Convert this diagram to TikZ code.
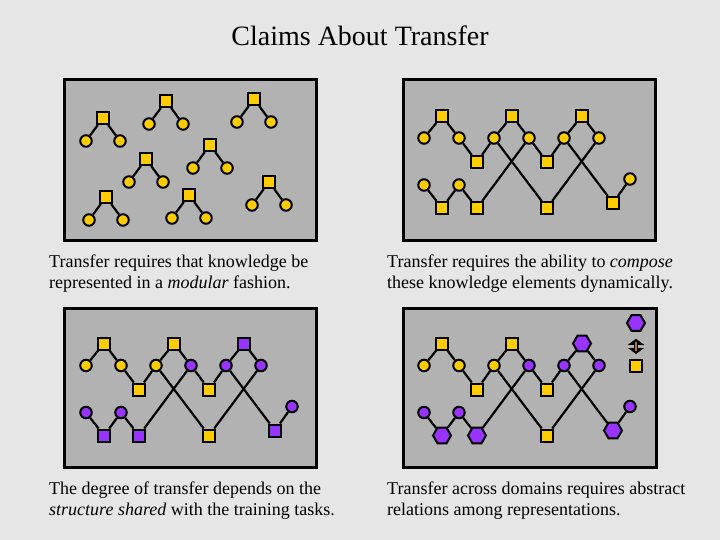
\documentclass[tikz,border=0pt]{standalone}
\usepackage{fontspec}
\setmainfont{Liberation Serif}
\usetikzlibrary{shapes.geometric,arrows.meta}
\definecolor{slide}{HTML}{E6E6E6}
\definecolor{panelgray}{HTML}{B2B2B2}
\definecolor{gold}{HTML}{FFCC00}
\definecolor{viol}{HTML}{9933FF}
\definecolor{shaft}{HTML}{C0702A}
\tikzset{
	unit/.style={draw,line width=2pt,inner sep=0pt,fill=#1},
	gsq/.style={unit=gold,rectangle,minimum size=12pt},
	vsq/.style={unit=viol,rectangle,minimum size=12pt},
	gdot/.style={unit=gold,circle,minimum size=11.5pt},
	vdot/.style={unit=viol,circle,minimum size=11.5pt},
	vhex/.style={unit=viol,regular polygon,regular polygon sides=6,minimum size=18pt},
	link/.style={line width=2.2pt},
	panel/.style={draw,line width=3pt,fill=panelgray},
	caption/.style={anchor=base west,align=left,inner sep=0pt,font=\fontsize{18}{21}\selectfont},
	relhead/.tip={Triangle[width=16pt,length=6pt]}
}
\newcommand{\netedges}{S1/c1,S1/c2,M1/c2,M1/c3,S2/c3,S2/c4,M2/c4,M2/c5,S3/c5,S3/c6,
	B1/l1,B1/l2,B2/l2,B2/c4,B3/c3,B3/c6,B4/c5,B4/r}
\begin{document}
\begin{tikzpicture}[x=1pt,y=-1pt]
	\path[fill=slide,use as bounding box] (0,0) rectangle (720,540);
	\node[font=\fontsize{28}{30}\selectfont,anchor=base] (title) at (360,46) {Claims About Transfer};
	\draw[panel] (64,80) rectangle (316,240);
	\draw[panel] (403,80) rectangle (655,240);
	\draw[panel] (64,308) rectangle (316,467);
	\draw[panel] (403,308) rectangle (656,467);
	\foreach \t/\x/\y in {1/103/118,2/166/101,3/254/99,4/210/145,5/146/159,6/106/197,7/189/195,8/269/182}{
		\node[gsq] (m\t) at (\x,\y) {};
		\node[gdot] (m\t-l) at (\x-17,\y+23) {};
		\node[gdot] (m\t-r) at (\x+17,\y+23) {};
		\draw[link] (m\t-l)--(m\t)--(m\t-r);
	}
	\foreach \n/\x/\y/\s in {S1/442/116/gsq,S2/512/116/gsq,S3/582/116/gsq,
		c1/424/138/gdot,c2/459/138/gdot,c3/494/138/gdot,c4/529/138/gdot,c5/564/138/gdot,c6/599/138/gdot,
		M1/477/162/gsq,M2/547/162/gsq,l1/424/185/gdot,l2/459/185/gdot,
		B1/442/208/gsq,B2/477/208/gsq,B3/547/208/gsq,B4/613/203/gsq,r/630/179/gdot}{
		\node[\s] (b-\n) at (\x,\y) {};
	}
	\foreach \a/\b in \netedges {\draw[link] (b-\a)--(b-\b);}
	\begin{scope}[shift={(-338,227.5)}]
		\foreach \n/\x/\y/\s in {S1/442/116/gsq,S2/512/116/gsq,S3/582/116/vsq,
			c1/424/138/gdot,c2/459/138/gdot,c3/494/138/gdot,c4/529/138/vdot,c5/564/138/vdot,c6/599/138/vdot,
			M1/477/162/gsq,M2/547/162/gsq,l1/424/185/vdot,l2/459/185/vdot,
			B1/442/208/vsq,B2/477/208/vsq,B3/547/208/gsq,B4/613/203/vsq,r/630/179/vdot}{
			\node[\s] (c-\n) at (\x,\y) {};
		}
		\foreach \a/\b in \netedges {\draw[link] (c-\a)--(c-\b);}
	\end{scope}
	\begin{scope}[shift={(0,227.5)}]
		\foreach \n/\x/\y/\s in {S1/442/116/gsq,S2/512/116/gsq,S3/582/116/vhex,
			c1/424/138/gdot,c2/459/138/gdot,c3/494/138/gdot,c4/529/138/vdot,c5/564/138/vdot,c6/599/138/vdot,
			M1/477/162/gsq,M2/547/162/gsq,l1/424/185/vdot,l2/459/185/vdot,
			B1/442/208/vhex,B2/477/208/vhex,B3/547/208/gsq,B4/613/203/vhex,r/630/179/vdot}{
			\node[\s] (d-\n) at (\x,\y) {};
		}
		\foreach \a/\b in \netedges {\draw[link] (d-\a)--(d-\b);}
		\node[vhex] (lgh) at (636,95.5) {};
		\node[gsq] (lgs) at (636,138.5) {};
		\draw[line width=4pt,relhead-relhead,shorten <=7pt,shorten >=5pt] (lgh)--(lgs);
		\draw[line width=2pt,shaft,shorten <=10pt,shorten >=8pt] (lgh)--(lgs);
	\end{scope}
	\node[caption] (capA) at (49,288) {Transfer requires that knowledge be\\represented in a \textit{modular} fashion.};
	\node[caption] (capB) at (387,288) {Transfer requires the ability to \textit{compose}\\these knowledge elements dynamically.};
	\node[caption] (capC) at (49,515) {The degree of transfer depends on the\\\textit{structure shared} with the training tasks.};
	\node[caption] (capD) at (387,515) {Transfer across domains requires abstract\\relations among representations.};
\end{tikzpicture}
\end{document}
